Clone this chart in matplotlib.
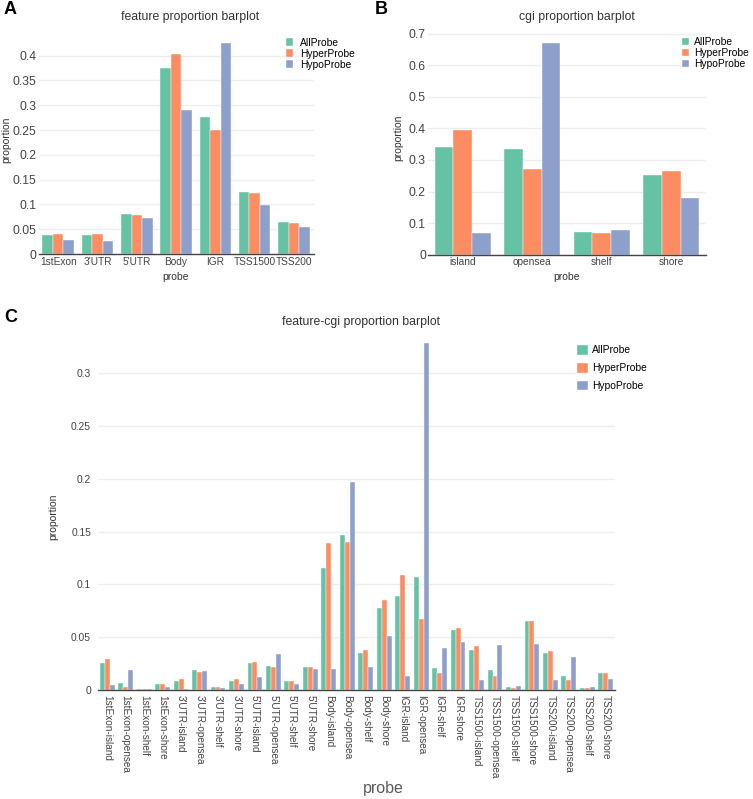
import numpy as np
import matplotlib
matplotlib.use('Agg')
import matplotlib.pyplot as plt

plt.rcParams['font.family'] = ['Liberation Sans', 'DejaVu Sans']

series = ['AllProbe', 'HyperProbe', 'HypoProbe']
colors = ['#66c2a5', '#fc8d62', '#8da0cb']

# panel A: feature proportion
features = ['1stExon', "3'UTR", "5'UTR", 'Body', 'IGR', 'TSS1500', 'TSS200']
all_a = [0.038, 0.038, 0.080, 0.375, 0.276, 0.124, 0.065]
hyper_a = [0.040, 0.041, 0.079, 0.403, 0.251, 0.122, 0.063]
hypo_a = [0.029, 0.027, 0.073, 0.291, 0.426, 0.099, 0.054]

# panel B: cgi proportion
cgi = ['island', 'opensea', 'shelf', 'shore']
all_b = [0.340, 0.334, 0.072, 0.254]
hyper_b = [0.394, 0.271, 0.070, 0.265]
hypo_b = [0.070, 0.672, 0.079, 0.180]

# panel C: feature-cgi proportion
combos = ['1stExon-island', '1stExon-opensea', '1stExon-shelf', '1stExon-shore',
          "3'UTR-island", "3'UTR-opensea", "3'UTR-shelf", "3'UTR-shore",
          "5'UTR-island", "5'UTR-opensea", "5'UTR-shelf", "5'UTR-shore",
          'Body-island', 'Body-opensea', 'Body-shelf', 'Body-shore',
          'IGR-island', 'IGR-opensea', 'IGR-shelf', 'IGR-shore',
          'TSS1500-island', 'TSS1500-opensea', 'TSS1500-shelf', 'TSS1500-shore',
          'TSS200-island', 'TSS200-opensea', 'TSS200-shelf', 'TSS200-shore']
all_c = [0.0256, 0.0063, 0.0006, 0.0053, 0.0081, 0.0188, 0.0028, 0.0088,
         0.0260, 0.0230, 0.0081, 0.0219, 0.116, 0.147, 0.0347, 0.078,
         0.089, 0.107, 0.021, 0.057, 0.038, 0.019, 0.0025, 0.065,
         0.035, 0.013, 0.0016, 0.016]
hyper_c = [0.0294, 0.0030, 0.0006, 0.0056, 0.0100, 0.0175, 0.0028, 0.0100,
           0.0266, 0.0216, 0.0088, 0.0219, 0.139, 0.140, 0.0378, 0.0856,
           0.1085, 0.067, 0.016, 0.059, 0.0416, 0.0128, 0.0019, 0.065,
           0.037, 0.009, 0.0016, 0.016]
hypo_c = [0.0044, 0.0190, 0.0010, 0.0030, 0.0008, 0.0184, 0.0022, 0.0053,
          0.0125, 0.0340, 0.0060, 0.0200, 0.020, 0.197, 0.0219, 0.051,
          0.0128, 0.329, 0.040, 0.045, 0.0094, 0.0425, 0.004, 0.044,
          0.0094, 0.0316, 0.003, 0.0106]

W, H = 753, 799
fig = plt.figure(figsize=(W / 100, H / 100), dpi=100)


def px_axes(left, right, top, bottom):
    return fig.add_axes([left / W, 1 - bottom / H, (right - left) / W, (bottom - top) / H])


def fmt(v):
    s = ('%.2f' % v).rstrip('0').rstrip('.')
    return s


def grouped(ax, cats, data, yticks, ytop, tick_fs, xtick_fs, ypad, xpad, rot=0):
    x = np.arange(len(cats))
    bw = 0.8 / 3
    for i, vals in enumerate(data):
        ax.bar(x + (i - 1) * bw, vals, bw, color=colors[i], label=series[i],
               edgecolor='white', linewidth=0.3, zorder=3)
    ax.set_xlim(-0.5, len(cats) - 0.5)
    ax.set_ylim(0, ytop)
    ax.set_yticks(yticks)
    ax.set_yticklabels([fmt(v) for v in yticks], fontsize=tick_fs, color='#444444')
    ax.set_xticks(x)
    if rot:
        ax.set_xticklabels(cats, rotation=270, fontsize=xtick_fs, color='#444444',
                           ha='center', va='top')
    else:
        ax.set_xticklabels(cats, fontsize=xtick_fs, color='#444444')
    ax.tick_params(axis='y', length=0, pad=ypad)
    ax.tick_params(axis='x', length=0, pad=xpad)
    ax.yaxis.grid(True, color='#eeeeee', linewidth=1, zorder=0)
    ax.set_axisbelow(True)
    for s in ['top', 'right', 'left']:
        ax.spines[s].set_visible(False)
    ax.spines['bottom'].set_color('#444444')
    ax.spines['bottom'].set_linewidth(1)
    ax.spines['bottom'].set_zorder(4)


# ---- A
axA = px_axes(38.5, 313.7, 32.4, 254)
grouped(axA, features, [all_a, hyper_a, hypo_a],
        [0, 0.05, 0.1, 0.15, 0.2, 0.25, 0.3, 0.35, 0.4], 0.4468, 8.7, 7.3, 1.5, 2)
fig.text(190 / W, 1 - 17 / H, 'feature proportion barplot', ha='center', va='center',
         fontsize=8.8, color='#333333')
fig.text(176 / W, 1 - 277 / H, 'probe', ha='center', va='center', fontsize=7.5, color='#333333')
fig.text(6.5 / W, 1 - 140 / H, 'proportion', ha='center', va='center', rotation=90,
         fontsize=7.5, color='#333333')
axA.legend(loc='upper left', bbox_to_anchor=(286 / W, 1 - 37.5 / H),
           bbox_transform=fig.transFigure, frameon=False, fontsize=7.4,
           handlelength=0.7, handleheight=0.7, handletextpad=0.65,
           labelspacing=0.1, borderpad=0, borderaxespad=0)
fig.text(10 / W, 1 - 10 / H, 'A', ha='center', va='center', fontsize=13, fontweight='bold')

# ---- B
axB = px_axes(428, 706, 32.1, 254.7)
grouped(axB, cgi, [all_b, hyper_b, hypo_b],
        [0, 0.1, 0.2, 0.3, 0.4, 0.5, 0.6, 0.7], 0.705, 8.7, 7.3, 1.5, 2)
fig.text(577 / W, 1 - 17 / H, 'cgi proportion barplot', ha='center', va='center',
         fontsize=8.8, color='#333333')
fig.text(567 / W, 1 - 277 / H, 'probe', ha='center', va='center', fontsize=7.5, color='#333333')
fig.text(398 / W, 1 - 138 / H, 'proportion', ha='center', va='center', rotation=90,
         fontsize=7.5, color='#333333')
axB.legend(loc='upper left', bbox_to_anchor=(681.5 / W, 1 - 37.2 / H),
           bbox_transform=fig.transFigure, frameon=False, fontsize=7.4,
           handlelength=0.75, handleheight=0.7, handletextpad=0.5,
           labelspacing=0.1, borderpad=0, borderaxespad=0)
fig.text(381 / W, 1 - 10 / H, 'B', ha='center', va='center', fontsize=13, fontweight='bold')

# ---- C
axC = px_axes(98, 615, 325.2, 690)
grouped(axC, combos, [all_c, hyper_c, hypo_c],
        [0, 0.05, 0.1, 0.15, 0.2, 0.25, 0.3], 0.3455, 7.4, 7.2, 5, 3.5, rot=1)
fig.text(361 / W, 1 - 322 / H, 'feature-cgi proportion barplot', ha='center', va='center',
         fontsize=8.8, color='#333333')
fig.text(53 / W, 1 - 517 / H, 'proportion', ha='center', va='center', rotation=90,
         fontsize=7.5, color='#333333')
fig.text(383 / W, 1 - 789 / H, 'probe', ha='center', va='center', fontsize=11.5,
         color='#5a5a5a', family=['Liberation Sans Narrow', 'Liberation Sans'])
legC = axC.legend(loc='upper left', bbox_to_anchor=(577 / W, 1 - 345 / H),
                  bbox_transform=fig.transFigure, frameon=True, fontsize=7.4,
                  handlelength=1.05, handleheight=1.05, handletextpad=0.45,
                  labelspacing=0.75, borderpad=0, borderaxespad=0)
legC.get_frame().set_facecolor('white')
legC.get_frame().set_edgecolor('none')
fig.text(11 / W, 1 - 317 / H, 'C', ha='center', va='center', fontsize=13, fontweight='bold')

fig.savefig('out.png', dpi=100)
